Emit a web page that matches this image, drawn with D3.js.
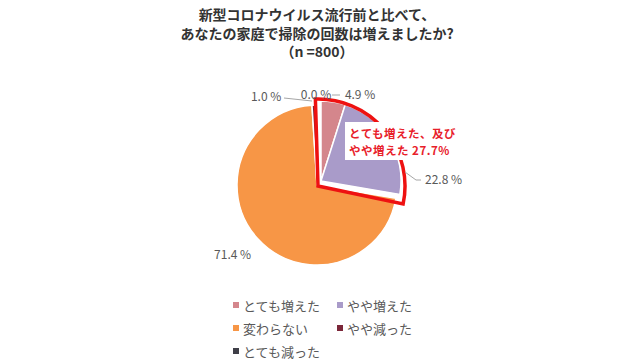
<!DOCTYPE html>
<html>
<head>
<meta charset="utf-8">
<script src="https://cdn.jsdelivr.net/npm/d3@7"></script>
<style>
  body { margin: 0; background: #ffffff; }
  svg { display: block; font-family: "Noto Sans CJK JP", "Noto Sans", sans-serif; }
</style>
</head>
<body>
<div id="chart"></div>
<script>
// chart data
var categories = ["とても増えた", "やや増えた", "変わらない", "やや減った", "とても減った"];
var values = [4.9, 22.8, 71.4, 1.0, 0.0];
var colors = ["#d4868c", "#a99bc9", "#f79646", "#7b2739", "#3f3f48"];
var titleLines = ["新型コロナウイルス流行前と比べて、", "あなたの家庭で掃除の回数は増えましたか?", "（n =800）"];
var calloutLines = ["とても増えた、及び", "やや増えた 27.7%"];

function init(){

    var w = 633;
    var h = 362;
    var cx = 317;
    var cy = 185;
    var r = 80;

    var svg = d3.select("#chart")
                .append("svg")
                .attr("width", w)
                .attr("height", h);

    // title
    svg.selectAll("text.title")
        .data(titleLines)
        .enter()
        .append("text")
        .attr("class", "title")
        .text(function(d) { return d; })
        .attr("x", 317)
        .attr("y", function(d, i) { return 20 + i * 18.5; })
        .attr("text-anchor", "middle")
        .attr("font-size", "14px")
        .attr("font-weight", "bold")
        .attr("fill", "#333333");

    var pie = d3.pie().sort(null).value(function(d) { return d; });
    var arcs = pie(values);

    var arc = d3.arc().innerRadius(0).outerRadius(r);

    // the two "increased" slices are pulled out a little
    var explode = [[4, -4], [4, -4], [0, 0], [0, 0], [0, 0]];

    var g = svg.append("g").attr("transform", "translate(" + cx + "," + cy + ")");

    g.selectAll("path.slice")
        .data(arcs)
        .enter()
        .append("path")
        .attr("class", "slice")
        .attr("d", arc)
        .attr("transform", function(d, i) { return "translate(" + explode[i][0] + "," + explode[i][1] + ")"; })
        .attr("fill", function(d, i) { return colors[i]; })
        .attr("stroke", "#ffffff")
        .attr("stroke-width", 1.5);

    // red outline around increased slices
    var outline = d3.arc()
        .innerRadius(0)
        .outerRadius(r + 7)
        .startAngle(arcs[0].startAngle - 0.03)
        .endAngle(arcs[1].endAngle + 0.04);

    g.append("path")
        .attr("d", outline())
        .attr("transform", "translate(1,1)")
        .attr("fill", "none")
        .attr("stroke", "#ee1111")
        .attr("stroke-width", 3.5)
        .attr("stroke-linejoin", "miter");

    // callout box
    svg.append("rect")
        .attr("x", 345)
        .attr("y", 122)
        .attr("width", 122)
        .attr("height", 38)
        .attr("fill", "#ffffff");

    svg.selectAll("text.callout")
        .data(calloutLines)
        .enter()
        .append("text")
        .attr("class", "callout")
        .text(function(d) { return d; })
        .attr("x", 349)
        .attr("y", function(d, i) { return 132.5 + i * 17; })
        .attr("dominant-baseline", "central")
        .attr("font-size", "11.5px")
        .attr("letter-spacing", "0.5px")
        .attr("font-weight", "bold")
        .attr("fill", "#e8202a");

    var lg = svg.append("g").attr("transform", "translate(" + cx + "," + cy + ")");

    // value labels
    var labelArc = d3.arc().innerRadius(r + 12).outerRadius(r + 12);
    var labelNudge = [[29, -1], [48, 41], [-16, 7], [-48, 2], [-1, 0]];

    lg.selectAll("text.val")
        .data(arcs)
        .enter()
        .append("text")
        .attr("class", "val")
        .text(function(d) { return d.data.toFixed(1) + " %"; })
        .attr("x", function(d, i) { return labelArc.centroid(d)[0] + labelNudge[i][0]; })
        .attr("y", function(d, i) { return labelArc.centroid(d)[1] + labelNudge[i][1]; })
        .attr("text-anchor", "middle")
        .attr("dominant-baseline", "central")
        .attr("font-size", "12px")
        .attr("fill", "#595959");

    // leader lines
    var leaders = [
        [[-33, -87], [-5, -84]],
        [[15, -90], [23, -90]],
        [[88, -13], [99, -5], [104, -5]]
    ];
    lg.selectAll("path.leader")
        .data(leaders)
        .enter()
        .append("path")
        .attr("class", "leader")
        .attr("d", d3.line())
        .attr("fill", "none")
        .attr("stroke", "#a6a6a6")
        .attr("stroke-width", 1);

    // legend
    var legendPos = [[233, 305], [337, 305], [233, 328], [337, 328], [233, 351]];
    var legend = svg.selectAll("g.legend")
        .data(categories)
        .enter()
        .append("g")
        .attr("class", "legend")
        .attr("transform", function(d, i) { return "translate(" + legendPos[i][0] + "," + legendPos[i][1] + ")"; });

    legend.append("rect")
        .attr("x", 0)
        .attr("y", -3)
        .attr("width", 6)
        .attr("height", 6)
        .attr("fill", function(d, i) { return colors[i]; });

    legend.append("text")
        .text(function(d) { return d; })
        .attr("x", 10)
        .attr("y", 0)
        .attr("dominant-baseline", "central")
        .attr("font-size", "13px")
        .attr("fill", "#595959");
}

window.onload = init;
</script>
</body>
</html>
